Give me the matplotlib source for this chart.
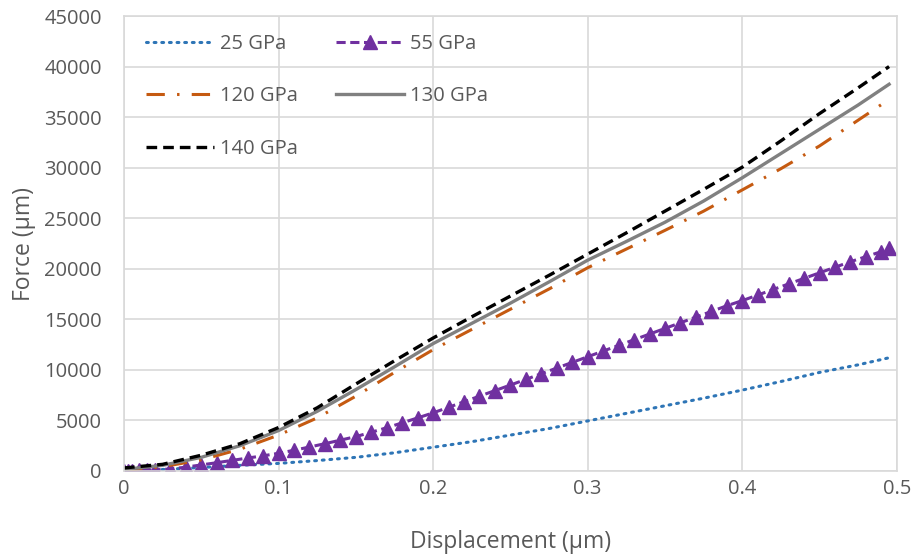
import numpy as np
import matplotlib
matplotlib.use('Agg')
import matplotlib.pyplot as plt

plt.rcParams['font.family'] = ['Open Sans', 'DejaVu Sans']

# displacement (um) for the smooth curves
disp = [0, 0.025, 0.05, 0.075, 0.1, 0.125, 0.15, 0.175, 0.2, 0.225, 0.25, 0.275, 0.3,
        0.325, 0.35, 0.375, 0.4, 0.425, 0.45, 0.475, 0.495]
f25 = [0, 150, 350, 560, 750, 1030, 1350, 1800, 2350, 2900, 3550, 4200, 4950,
       5700, 6450, 7200, 8000, 8850, 9750, 10500, 11200]
f120 = [50, 420, 1100, 2150, 3550, 5250, 7400, 9750, 12000, 14000, 16000, 18000, 20100,
        21950, 23800, 25700, 27800, 29900, 32150, 34700, 36750]
f130 = [150, 560, 1350, 2500, 4000, 5900, 8050, 10300, 12600, 14600, 16600, 18700, 20850,
        22700, 24600, 26700, 29000, 31400, 33800, 36200, 38250]
f140 = [300, 660, 1560, 2700, 4300, 6250, 8600, 10900, 13150, 15250, 17300, 19350, 21450,
        23550, 25700, 27850, 30050, 32650, 35350, 37900, 40000]

# 55 GPa series has a marker on every point
disp55 = [0, 0.0025, 0.005, 0.01, 0.015, 0.02, 0.03, 0.04, 0.05, 0.06, 0.07, 0.08, 0.09,
          0.10, 0.11, 0.12, 0.13, 0.14, 0.15, 0.16, 0.17, 0.18, 0.19, 0.20, 0.21, 0.22,
          0.23, 0.24, 0.25, 0.26, 0.27, 0.28, 0.29, 0.30, 0.31, 0.32, 0.33, 0.34, 0.35,
          0.36, 0.37, 0.38, 0.39, 0.40, 0.41, 0.42, 0.43, 0.44, 0.45, 0.46, 0.47, 0.48,
          0.49, 0.495]
f55 = [0, 10, 25, 50, 80, 110, 200, 380, 600, 820, 1050, 1280, 1500,
       1750, 2050, 2370, 2700, 3050, 3400, 3830, 4280, 4760, 5250, 5750, 6300, 6850,
       7400, 7950, 8500, 9060, 9620, 10180, 10740, 11300, 11860, 12420, 12980, 13540, 14100,
       14660, 15220, 15780, 16340, 16850, 17400, 17950, 18500, 19050, 19600, 20150, 20700, 21200,
       21700, 22050]

fig = plt.figure(figsize=(9.17, 5.56), dpi=100)
ax = fig.add_axes([0.1352, 0.1529, 0.8428, 0.8183])

l25, = ax.plot(disp, f25, color='#2E75B6', lw=2.2, linestyle=(0, (0.6, 1.9)),
               dash_capstyle='round', label='25 GPa')
l55, = ax.plot(disp55, f55, color='#7030A0', lw=2.2, linestyle=(0, (3, 1.5)),
               marker='^', markersize=9.5, label='55 GPa')
l120, = ax.plot(disp, f120, color='#C55A11', lw=2.2, linestyle=(0, (6, 4, 0.8, 4)),
                label='120 GPa')
l130, = ax.plot(disp, f130, color='#808080', lw=2.4, label='130 GPa')
l140, = ax.plot(disp, f140, color='black', lw=2.4, linestyle=(0, (3.2, 1.8)), label='140 GPa')

ax.set_xlim(0, 0.5)
ax.set_ylim(0, 45000)
ax.set_xticks([0, 0.1, 0.2, 0.3, 0.4, 0.5])
ax.set_xticklabels(['0', '0.1', '0.2', '0.3', '0.4', '0.5'])
ax.set_yticks(range(0, 45001, 5000))
ax.grid(color='#d9d9d9', lw=1.2)
ax.set_axisbelow(True)
for s in ax.spines.values():
    s.set_color('#d9d9d9')
    s.set_linewidth(1.2)
ax.tick_params(length=0, labelsize=14.5, colors='#595959')
ax.tick_params(axis='x', pad=6)
ax.tick_params(axis='y', pad=16)

ax.set_xlabel('Displacement (µm)', fontsize=16.5, color='#595959', labelpad=22)
ax.set_ylabel('Force (µm)', fontsize=16.5, color='#595959', labelpad=6)

# legend filled row by row: (25, 55), (120, 130), (140)
ax.legend([l25, l120, l140, l55, l130], ['25 GPa', '120 GPa', '140 GPa', '55 GPa', '130 GPa'],
          ncol=2, loc='upper left', frameon=False, fontsize=14.5, labelcolor='#595959',
          handlelength=3.4, labelspacing=1.6, columnspacing=1.85, handletextpad=0.3,
          bbox_to_anchor=(0.005, 1.0))

fig.savefig('out.png', dpi=100)
